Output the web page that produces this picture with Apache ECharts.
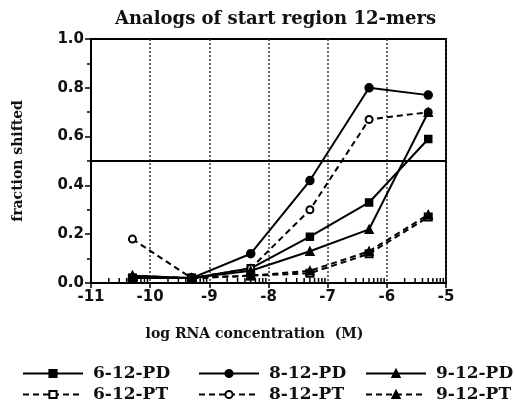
<!DOCTYPE html>
<html>
<head>
<meta charset="utf-8">
<script src="https://cdn.jsdelivr.net/npm/echarts@6/dist/echarts.min.js"></script>
<style>html,body{margin:0;padding:0;background:#fff}#c{width:515px;height:412px}</style>
</head>
<body>
<div id="c"></div>
<script>
// ---- data ----
const logConc = [-10.3, -9.3, -8.3, -7.3, -6.3, -5.3];
const pd6 = [0.02, 0.02, 0.06, 0.19, 0.33, 0.59];
const pt6 = [0.02, 0.02, 0.03, 0.04, 0.12, 0.27];
const pd8 = [0.02, 0.02, 0.12, 0.42, 0.80, 0.77];
const pt8 = [0.18, 0.02, 0.06, 0.30, 0.67, 0.70];
const pd9 = [0.03, 0.02, 0.05, 0.13, 0.22, 0.70];
const pt9 = [0.03, 0.02, 0.03, 0.05, 0.13, 0.28];
const halfLine = 0.5;
const xDecades = [-11, -10, -9, -8, -7, -6];
const minorFactors = [2, 3, 4, 5, 6, 7, 8, 9];

const minorTicks = [];
xDecades.forEach(d => minorFactors.forEach(k => minorTicks.push(d + Math.log10(k))));

const pair = arr => arr.map((v, i) => [logConc[i], v]);
const serif = 'DejaVu Serif';
const sans = 'DejaVu Sans';

function mk(name, data, symbol, dashed, size) {
  return {
    name, type: 'line', data: pair(data), symbol, symbolSize: size,
    itemStyle: { color: '#000', borderColor: '#000', borderWidth: 1.5 },
    lineStyle: { color: '#000', width: 2, type: dashed ? [6, 4] : 'solid' },
    emphasis: { disabled: true }, z: 3
  };
}

const series = [
  mk('6-12-PD', pd6, 'rect', false, 7),
  mk('6-12-PT', pt6, 'emptyRect', true, 7),
  mk('8-12-PD', pd8, 'circle', false, 8),
  mk('8-12-PT', pt8, 'emptyCircle', true, 7),
  mk('9-12-PD', pd9, 'triangle', false, 8),
  mk('9-12-PT', pt9, 'triangle', true, 8)
];
series[0].markLine = {
  silent: true, symbol: 'none', label: { show: false },
  lineStyle: { color: '#000', width: 2, type: 'solid' },
  data: [{ yAxis: halfLine }]
};
// log-style minor ticks on the x axis, placed through the axis scale
series.push({
  type: 'custom', silent: true, z: 5,
  data: minorTicks.map(v => [v, 0]),
  renderItem: (params, api) => {
    const p = api.coord([api.value(0), 0]);
    return { type: 'line', shape: { x1: p[0], y1: p[1], x2: p[0], y2: p[1] - 5 }, style: { stroke: '#000', lineWidth: 1.5 } };
  }
});

function legendCol(left, names) {
  return {
    left, top: 360, orient: 'vertical', itemWidth: 60, itemHeight: 9, itemGap: 4,
    height: 52,
    data: names, selectedMode: false,
    textStyle: { fontFamily: serif, fontSize: 17, fontWeight: 'bold', color: '#111', padding: [5, 0, 0, 5] }
  };
}

const chart = echarts.init(document.getElementById('c'), null, { renderer: 'canvas' });
chart.setOption({
  animation: false,
  backgroundColor: '#fff',
  title: {
    text: 'Analogs of start region 12-mers', left: 110, top: 5,
    textStyle: { fontFamily: serif, fontSize: 18, fontWeight: 'bold', color: '#111' }
  },
  legend: [
    legendCol(17, ['6-12-PD', '6-12-PT']),
    legendCol(193, ['8-12-PD', '8-12-PT']),
    legendCol(360, ['9-12-PD', '9-12-PT'])
  ],
  grid: { left: 91, right: 69, top: 39, bottom: 129, show: true, borderColor: '#000', borderWidth: 2, backgroundColor: 'transparent' },
  xAxis: {
    type: 'value', min: -11, max: -5, interval: 1, position: 'bottom',
    name: 'log RNA concentration  (M)', nameLocation: 'middle', nameGap: 44,
    nameTextStyle: { fontFamily: serif, fontSize: 14, fontWeight: 'bold', color: '#111', padding: [0, 28, 0, 0] },
    axisLine: { lineStyle: { color: '#000', width: 2 } },
    axisTick: { show: true, length: 5, lineStyle: { color: '#000', width: 1.5 } },
    axisLabel: { fontFamily: sans, fontSize: 15, fontWeight: 'bold', color: '#111', margin: 7 },
    splitLine: { show: true, lineStyle: { color: '#333', width: 1.5, type: [2, 2] } }
  },
  yAxis: {
    type: 'value', min: 0, max: 1, interval: 0.2,
    name: 'fraction shifted', nameLocation: 'middle', nameGap: 66, nameRotate: 90,
    nameTextStyle: { fontFamily: serif, fontSize: 14, fontWeight: 'bold', color: '#111' },
    axisLine: { show: true, lineStyle: { color: '#000', width: 2 } },
    axisTick: { show: true, length: 6, lineStyle: { color: '#000', width: 1.5 } },
    minorTick: { show: true, splitNumber: 2, length: 4, lineStyle: { color: '#000', width: 1.5 } },
    axisLabel: { fontFamily: sans, fontSize: 15, fontWeight: 'bold', color: '#111', margin: 7, formatter: v => v.toFixed(1) },
    splitLine: { show: false }
  },
  series
});
</script>
</body>
</html>
